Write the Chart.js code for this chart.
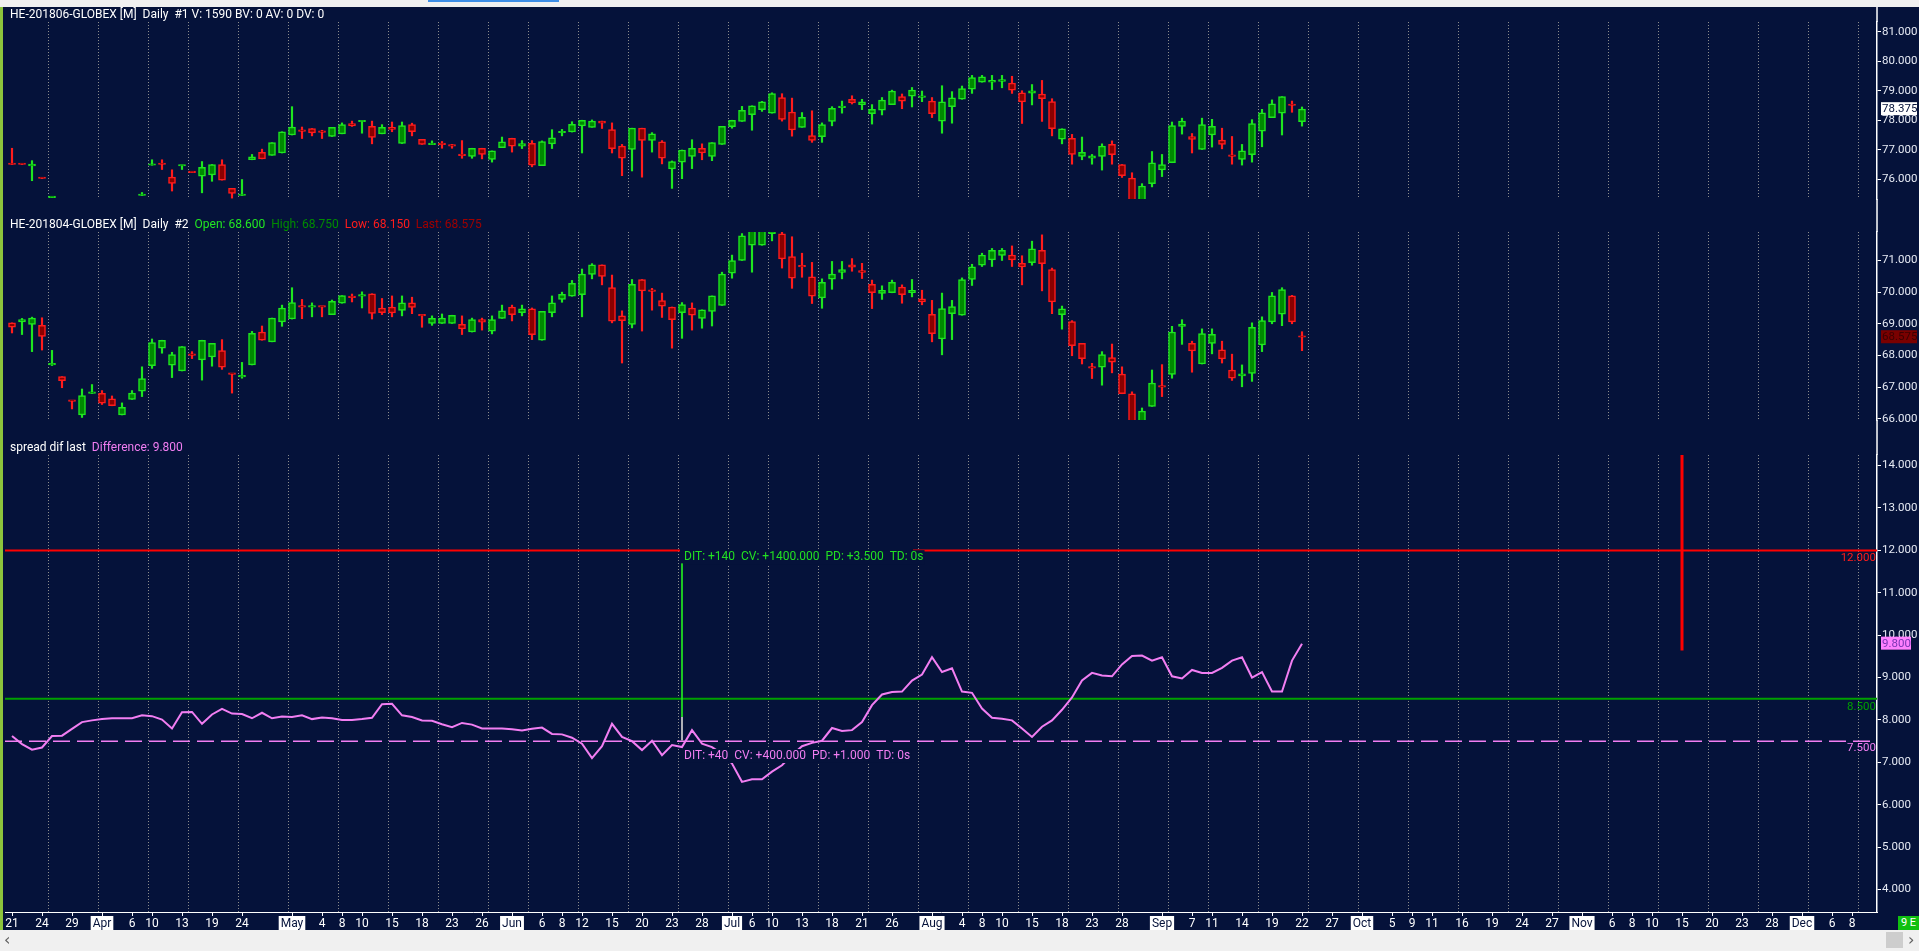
<!DOCTYPE html>
<html>
<head>
<meta charset="utf-8">
<title>HE-201806 / HE-201804 spread</title>
<script src="https://cdn.jsdelivr.net/npm/chart.js@4.4.1/dist/chart.umd.min.js"></script>
<style>
  html, body { margin: 0; padding: 0; }
  body { width: 1919px; height: 951px; background: #05123a; position: relative; overflow: hidden; font-family: Roboto, "Noto Sans", sans-serif; }
  .pane { position: absolute; left: 0; width: 1919px; }
  #topbar { position: absolute; left: 0; top: 0; width: 1919px; height: 7px; background: #f0f0f0; }
  #topbar div { position: absolute; left: 428px; top: 0; width: 131px; height: 2px; background: #3d8ee6; }
  #leftstrip { position: absolute; left: 0; top: 7px; width: 3px; height: 923px; background: #8cc43c; }
  #scroll { position: absolute; left: 0; top: 930px; width: 1919px; height: 21px; background: #f0f0f0; color: #606060; font: 16px "DejaVu Sans", sans-serif; }
  #scroll .l { position: absolute; left: 4px; top: 0px; }
  #scroll .r { position: absolute; left: 1908px; top: 0px; }
  #scroll .thumb { position: absolute; left: 1886px; top: 2px; width: 17px; height: 16px; background: #cdcdcd; }
  #nine { position: absolute; left: 1898px; top: 916px; width: 21px; height: 14px; background: #10c010; color: #fff; font: 11px Roboto, sans-serif; line-height: 14px; text-align: center; }
</style>
</head>
<body>
<div id="topbar"><div></div></div>
<div class="pane" style="top:7px;height:210px"><canvas id="pane1"></canvas></div>
<div class="pane" style="top:217px;height:221px"><canvas id="pane2"></canvas></div>
<div class="pane" style="top:438px;height:492px"><canvas id="pane3"></canvas></div>
<div id="leftstrip"></div>
<div id="nine">9 E</div>
<div id="scroll"><span class="l">&#8249;</span><div class="thumb"></div><span class="r">&#8250;</span></div>

<script>
// bar slots: 0 = 21 Mar, one slot per trading day, future slots to the right
var tickSlots = [0, 3, 6, 9, 12, 14, 17, 20, 23, 28, 31, 33, 35, 38, 41, 44, 47, 50, 53, 55, 57, 60, 63, 66, 69,
  72, 74, 76, 79, 82, 85, 88, 92, 95, 97, 99, 102, 105, 108, 111, 115, 118, 120, 123, 126, 129, 132, 135, 138,
  140, 142, 145, 148, 151, 154, 157, 160, 162, 164, 167, 170, 173, 176, 179, 182, 184];
var tickLabels = ['21', '24', '29', 'Apr', '6', '10', '13', '19', '24', 'May', '4', '8', '10', '15', '18', '23', '26',
  'Jun', '6', '8', '12', '15', '20', '23', '28', 'Jul', '6', '10', '13', '18', '21', '26', 'Aug', '4', '8', '10', '15',
  '18', '23', '28', 'Sep', '7', '11', '14', '19', '22', '27', 'Oct', '5', '9', '11', '16', '19', '24', '27', 'Nov',
  '6', '8', '10', '15', '20', '23', '28', 'Dec', '6', '8'];
var monthNames = ['Apr', 'May', 'Jun', 'Jul', 'Aug', 'Sep', 'Oct', 'Nov', 'Dec'];
// weekly separators, drawn after these slots
var gridSlots = [3, 8, 13, 17, 22, 27, 32, 37, 42, 47, 51, 56, 61, 66, 71, 75, 80, 85, 90, 95, 100, 105, 110, 115,
  119, 124, 129, 134, 139, 144, 149, 154, 159, 164, 169, 174, 179, 184];

// HE-201806
var open1 = [76.525, 76.525, 76.45, 76.05, 75.375, null, null, null, null, null, null, null, null, 75.45, 76.475, 76.525, 76.07, 76.45, 76.25, 76.10, 76.15, 76.50, 75.69, 75.45, 76.66, 76.91, 76.81, 76.89, 77.50, 77.65, 77.72, 77.64, 77.45, 77.54, 77.89, 77.95, 77.79, 77.54, 77.76, 77.21, 77.85, 77.35, 77.175, 77.20, 77.15, 76.825, 76.77, 77.05, 76.67, 77.07, 77.39, 77.12, 77.22, 76.46, 77.20, 77.575, 77.60, 77.81, 77.76, 77.97, 77.68, 77.12, 77.01, 77.73, 77.32, 77.27, 76.35, 76.58, 76.77, 77.05, 76.77, 77.18, 77.78, 77.96, 78.19, 78.36, 78.24, 78.77, 78.28, 77.76, 77.48, 77.44, 77.96, 78.425, 78.71, 78.53, 78.22, 78.34, 78.53, 78.80, 78.82, 78.77, 78.65, 77.97, 78.46, 78.71, 79.05, 79.29, 79.29, 79.32, 79.26, 78.93, 78.92, 78.89, 78.63, 77.36, 77.39, 76.77, 76.71, 76.77, 77.18, 76.50, 76.04, 75.20, 75.85, 76.32, 76.56, 77.79, 77.45, 77.01, 77.50, 77.33, 76.80, 76.67, 76.83, 77.63, 78.09, 78.24, 78.525, 77.95];
var high1 = [77.05, 76.525, 76.63, 76.05, 75.40, null, null, null, null, null, null, null, null, 75.55, 76.66, 76.66, 76.32, 76.475, 76.25, 76.60, 76.50, 76.66, 75.69, 75.99, 76.84, 77.02, 77.24, 77.61, 78.46, 77.77, 77.72, 77.66, 77.76, 77.91, 77.97, 77.975, 77.97, 77.85, 77.94, 77.94, 77.90, 77.35, 77.30, 77.28, 77.18, 77.31, 77.05, 77.05, 76.96, 77.43, 77.39, 77.31, 77.31, 77.30, 77.68, 77.69, 77.95, 78.00, 78.01, 77.97, 77.91, 77.18, 77.73, 77.73, 77.58, 77.31, 76.62, 76.99, 77.34, 77.20, 77.24, 77.79, 78.00, 78.47, 78.49, 78.64, 78.93, 78.90, 78.75, 78.26, 78.32, 77.91, 78.46, 78.65, 78.83, 78.71, 78.53, 78.77, 79.02, 78.89, 79.11, 78.99, 78.77, 79.17, 78.97, 79.16, 79.52, 79.52, 79.52, 79.52, 79.49, 79.00, 79.21, 79.35, 78.73, 77.71, 77.52, 77.43, 76.84, 77.20, 77.30, 76.50, 76.22, 75.85, 76.94, 76.84, 77.94, 78.07, 77.55, 78.07, 78.03, 77.73, 77.45, 77.18, 78.02, 78.37, 78.69, 78.80, 78.65, 78.45];
var low1 = [76.50, 76.50, 75.95, 76.025, 75.375, null, null, null, null, null, null, null, null, 75.45, 76.475, 76.33, 75.60, 76.33, 76.225, 75.54, 75.93, 75.97, 75.36, 75.45, 76.66, 76.69, 76.81, 76.89, 77.50, 77.38, 77.47, 77.38, 77.45, 77.54, 77.79, 77.56, 77.20, 77.54, 77.61, 77.21, 77.47, 77.18, 77.175, 77.05, 77.05, 76.71, 76.71, 76.69, 76.58, 77.07, 76.92, 77.04, 76.42, 76.46, 77.04, 77.47, 77.60, 76.89, 77.76, 77.72, 76.89, 76.12, 76.28, 76.07, 76.92, 76.52, 75.69, 76.02, 76.36, 76.66, 76.63, 77.18, 77.73, 77.96, 77.66, 78.30, 78.24, 77.97, 77.46, 77.76, 77.25, 77.25, 77.81, 78.24, 78.55, 78.36, 77.87, 78.18, 78.53, 78.39, 78.45, 78.63, 78.09, 77.56, 77.90, 78.71, 78.91, 79.29, 79.04, 79.10, 78.91, 77.89, 78.52, 77.96, 77.47, 77.20, 76.51, 76.66, 76.51, 76.31, 76.51, 76.06, 75.10, 75.10, 75.74, 76.09, 76.56, 77.53, 76.89, 77.01, 77.09, 77.03, 76.51, 76.48, 76.58, 77.10, 78.09, 77.50, 78.27, 77.80];
var close1 = [76.50, 76.50, 76.51, 76.025, 75.40, null, null, null, null, null, null, null, null, 75.475, 76.50, 76.50, 75.86, 76.475, 76.225, 76.40, 76.50, 75.97, 75.52, 75.50, 76.76, 76.69, 77.24, 77.61, 77.77, 77.625, 77.57, 77.59, 77.76, 77.85, 77.81, 77.975, 77.42, 77.76, 77.69, 77.82, 77.61, 77.18, 77.20, 77.175, 77.125, 76.80, 77.05, 76.84, 76.96, 77.27, 77.12, 77.21, 76.48, 77.28, 77.40, 77.60, 77.86, 78.00, 77.97, 77.90, 77.04, 76.71, 77.73, 77.32, 77.54, 76.71, 76.60, 76.99, 77.05, 76.89, 77.24, 77.79, 78.00, 78.34, 78.49, 78.62, 78.90, 78.03, 77.67, 78.10, 77.32, 77.85, 78.40, 78.45, 78.59, 78.62, 78.37, 78.68, 78.99, 78.65, 79.02, 78.83, 78.22, 78.62, 78.76, 79.07, 79.45, 79.47, 79.35, 79.38, 79.02, 78.62, 79.00, 78.73, 77.71, 77.71, 76.84, 76.91, 76.79, 77.12, 76.83, 76.12, 75.20, 75.77, 76.56, 76.50, 77.82, 77.97, 77.35, 77.85, 77.79, 77.18, 76.775, 76.96, 77.89, 78.25, 78.56, 78.80, 78.50, 78.375];

// HE-201804
var open2 = [69.03, 69.06, 68.98, 68.95, 67.70, 67.33, 66.575, 66.12, 66.80, 66.80, 66.63, 66.12, 66.61, 66.87, 67.68, 68.23, 67.69, 67.51, 68.025, 67.86, 67.95, 68.15, 67.425, 67.325, 67.70, 68.74, 68.43, 69.06, 69.15, 69.55, 69.525, 69.55, 69.29, 69.65, 69.85, 69.875, 69.95, 69.50, 69.53, 69.42, 69.66, 69.275, 69.01, 69.01, 69.01, 68.98, 68.74, 69.13, 68.77, 69.17, 69.53, 69.35, 69.47, 68.48, 69.35, 69.77, 69.87, 69.92, 70.56, 70.86, 70.14, 69.25, 68.98, 70.40, 70.05, 69.73, 69.53, 69.35, 69.50, 69.17, 69.39, 69.58, 70.60, 71.00, 71.48, 71.48, 71.85, 71.84, 71.12, 70.825, 70.48, 69.82, 70.41, 70.62, 70.86, 70.68, 70.25, 69.96, 69.98, 70.16, 69.98, 69.79, 69.30, 68.52, 69.32, 69.27, 70.40, 70.85, 71.02, 71.16, 71.17, 70.91, 70.93, 71.32, 70.71, 69.29, 69.07, 68.38, 67.625, 67.63, 67.93, 67.41, 66.79, 65.90, 66.39, 67.025, 67.40, 68.92, 68.38, 67.73, 68.38, 68.18, 67.54, 67.35, 67.43, 68.33, 69.06, 69.30, 69.88, 68.60];
var high2 = [69.03, 69.17, 69.21, 69.19, 68.16, 67.33, 66.575, 66.94, 67.08, 66.89, 66.72, 66.50, 66.89, 67.64, 68.52, 68.48, 68.10, 68.28, 68.12, 68.48, 68.38, 68.50, 67.425, 67.78, 68.76, 68.93, 69.18, 69.59, 70.14, 69.77, 69.66, 69.55, 69.75, 69.89, 69.94, 70.01, 69.95, 69.80, 69.88, 69.88, 69.84, 69.28, 69.25, 69.31, 69.27, 69.25, 69.18, 69.18, 69.25, 69.59, 69.59, 69.59, 69.50, 69.39, 69.88, 70.00, 70.37, 70.73, 70.90, 70.86, 70.54, 69.41, 70.40, 70.40, 70.12, 69.97, 69.53, 69.67, 69.66, 69.44, 69.88, 70.63, 71.17, 71.85, 72.05, 72.05, 72.05, 72.00, 71.75, 71.23, 70.94, 70.42, 70.97, 70.97, 71.06, 70.91, 70.38, 70.20, 70.38, 70.23, 70.40, 70.06, 69.74, 69.97, 69.74, 70.45, 70.88, 71.23, 71.38, 71.38, 71.46, 71.15, 71.61, 71.81, 70.76, 69.56, 69.10, 68.38, 67.75, 68.12, 68.36, 67.64, 66.85, 66.34, 67.54, 67.71, 68.92, 69.13, 68.45, 68.84, 68.84, 68.45, 68.04, 67.70, 69.03, 69.22, 69.99, 70.14, 69.90, 68.75];
var low2 = [68.71, 68.66, 68.12, 68.17, 67.68, 66.98, 66.31, 66.04, 66.80, 66.45, 66.41, 66.12, 66.61, 66.70, 67.59, 68.07, 67.30, 67.51, 67.90, 67.22, 67.66, 67.56, 66.81, 67.28, 67.70, 68.48, 68.43, 68.92, 69.15, 69.16, 69.22, 69.22, 69.29, 69.65, 69.69, 69.50, 69.15, 69.29, 69.22, 69.25, 69.32, 68.89, 68.95, 69.01, 69.01, 68.66, 68.74, 68.80, 68.68, 69.17, 69.09, 69.25, 68.50, 68.48, 69.22, 69.68, 69.87, 69.22, 70.42, 70.23, 69.03, 67.76, 68.87, 68.77, 69.43, 69.20, 68.23, 68.54, 68.80, 68.86, 68.93, 69.58, 70.44, 71.00, 70.63, 71.48, 71.62, 70.76, 70.12, 70.47, 69.64, 69.49, 70.09, 70.42, 70.66, 70.43, 69.48, 69.77, 69.98, 69.65, 69.85, 69.60, 68.43, 68.02, 68.50, 69.27, 70.21, 70.81, 70.81, 71.00, 70.81, 70.23, 70.85, 70.04, 69.32, 68.83, 67.99, 67.73, 67.27, 67.06, 67.45, 66.79, 65.80, 65.80, 66.39, 66.70, 67.28, 68.35, 67.47, 67.73, 68.05, 67.76, 67.21, 67.01, 67.18, 68.12, 69.00, 68.94, 69.00, 68.15];
var close2 = [68.89, 69.13, 69.18, 68.60, 67.725, 67.20, 66.55, 66.73, 66.825, 66.49, 66.41, 66.36, 66.81, 67.27, 68.41, 68.48, 68.03, 68.28, 68.00, 68.48, 68.38, 67.63, 67.40, 67.35, 68.70, 68.48, 69.18, 69.50, 69.67, 69.525, 69.55, 69.525, 69.71, 69.89, 69.825, 69.90, 69.33, 69.35, 69.34, 69.66, 69.52, 69.25, 69.17, 69.18, 69.27, 68.84, 69.13, 69.05, 69.13, 69.41, 69.29, 69.47, 68.66, 69.39, 69.66, 69.93, 70.28, 70.57, 70.86, 70.50, 69.08, 69.10, 70.25, 70.04, 70.025, 69.56, 69.13, 69.61, 69.27, 69.44, 69.88, 70.57, 71.00, 71.78, 71.95, 72.00, 72.00, 71.05, 70.44, 70.80, 69.87, 70.31, 70.57, 70.71, 70.79, 70.62, 69.98, 70.06, 70.31, 69.92, 70.06, 69.69, 68.69, 69.48, 69.54, 70.40, 70.80, 71.17, 71.32, 71.32, 71.02, 70.80, 71.37, 70.90, 69.69, 69.47, 68.31, 67.90, 67.60, 68.03, 67.79, 66.79, 65.90, 66.24, 67.13, 67.00, 68.74, 68.99, 68.14, 68.69, 68.67, 67.89, 67.28, 67.42, 68.89, 69.10, 69.88, 70.08, 69.06, 68.575];

// spread dif last
var spread = [7.62, 7.43, 7.30, 7.35, 7.62, 7.63, 7.79, 7.95, 7.99, 8.02, 8.04, 8.04, 8.04, 8.11, 8.09, 8.01, 7.80, 8.18, 8.19, 7.91,
  8.13, 8.26, 8.15, 8.14, 8.04, 8.17, 8.04, 8.08, 8.07, 8.11, 8.02, 8.06, 8.04, 8.00, 8.00, 8.02, 8.05, 8.37, 8.38, 8.11,
  8.07, 7.99, 7.98, 7.90, 7.83, 7.93, 7.89, 7.80, 7.80, 7.80, 7.78, 7.75, 7.79, 7.82, 7.67, 7.66, 7.58, 7.44, 7.10, 7.38,
  7.91, 7.60, 7.50, 7.29, 7.51, 7.17, 7.41, 7.36, 7.76, 7.44, 7.36, 7.20, 6.97, 6.54, 6.60, 6.60, 6.78, 6.93, 7.17, 7.38,
  7.46, 7.51, 7.81, 7.74, 7.76, 7.95, 8.35, 8.60, 8.66, 8.67, 8.93, 9.07, 9.48, 9.13, 9.22, 8.67, 8.64, 8.27, 8.05, 8.03,
  7.99, 7.80, 7.60, 7.84, 7.99, 8.24, 8.53, 8.93, 9.11, 9.05, 9.03, 9.31, 9.51, 9.52, 9.40, 9.48, 9.03, 8.98, 9.18, 9.11,
  9.11, 9.23, 9.40, 9.48, 9.00, 9.13, 8.67, 8.67, 9.40, 9.80];

// horizontal levels and drawing-tool marks on the spread pane
var levelRed = 12.0, levelGreen = 8.5, levelViolet = 7.5;
var measureSlot = 67, redResumeSlot = 90.1;
var alertSlot = 167, alertLow = 9.64;

var yTicks1 = [76, 77, 78, 79, 80, 81];
var yTicks2 = [66, 67, 68, 69, 70, 71];
var yTicks3 = [4, 5, 6, 7, 8, 9, 10, 11, 12, 13, 14];

var xMin = -0.7, xMax = 186.5;
var navy = '#05123a';
var upLine = '#1fe61f', upFill = '#008a00', downLine = '#ff1c1c', downFill = '#8b0000';
var violet = '#f27ef2';
var fontFamily = 'Roboto, "Noto Sans", sans-serif';
var axisFont = '11.5px ' + fontFamily;

function candleSets(o, h, l, c) {
    var wicks = [], bodies = [];
    for (var i = 0; i < c.length; i++) {
        if (c[i] == null) continue;
        var up = c[i] > o[i];
        wicks.push({ x: i, y: [l[i], h[i]], up: up });
        bodies.push({ x: i, y: [o[i], c[i]], up: up });
    }
    return [{
        data: bodies, order: 1, grouped: false, barThickness: 7, minBarLength: 1.5,
        borderWidth: 1.5, borderSkipped: false,
        backgroundColor: function (ctx) { return ctx.raw && ctx.raw.up ? upFill : downFill; },
        borderColor: function (ctx) { return ctx.raw && ctx.raw.up ? upLine : downLine; }
    }, {
        data: wicks, order: 2, grouped: false, barThickness: 1.5, borderWidth: 0,
        backgroundColor: function (ctx) { return ctx.raw && ctx.raw.up ? upLine : downLine; }
    }];
}

function xScale(show) {
    return {
        type: 'linear', min: xMin, max: xMax, offset: false, display: show,
        grid: { display: show, offset: false, drawOnChartArea: false, drawTicks: true, tickLength: 4, color: '#ffffff' },
        border: { display: show, color: '#ffffff', width: 1 },
        afterBuildTicks: function (s) { s.ticks = tickSlots.map(function (v) { return { value: v }; }); },
        afterFit: function (s) { s.height = 18; },
        ticks: {
            autoSkip: false, maxRotation: 0, minRotation: 0, padding: 1,
            font: { family: fontFamily, size: 12 },
            color: function (ctx) { return monthNames.indexOf(tickLabels[ctx.index]) >= 0 ? navy : '#ffffff'; },
            showLabelBackdrop: function (ctx) { return monthNames.indexOf(tickLabels[ctx.index]) >= 0; },
            backdropColor: '#ffffff',
            backdropPadding: { x: 2, y: 1 },
            callback: function (v, i) { return tickLabels[i]; }
        }
    };
}

function yScale(min, max, ticks) {
    return {
        type: 'linear', position: 'right', min: min, max: max,
        afterBuildTicks: function (s) { s.ticks = ticks.map(function (v) { return { value: v }; }); },
        afterFit: function (s) { s.width = 42; },
        grid: { drawOnChartArea: false, drawTicks: true, tickLength: 4, color: '#ffffff' },
        border: { display: true, color: '#ffffff', width: 1.5 },
        ticks: {
            padding: 1, color: '#e6eaf4', font: { family: fontFamily, size: 11.5 },
            callback: function (v) { return Number(v).toFixed(3); }
        }
    };
}

// dotted weekly separators + header text + axis line through the header gap
function paneDecor(header, headerY, box) {
    return {
        id: 'paneDecor',
        beforeDatasetsDraw: function (chart) {
            var ctx = chart.ctx, a = chart.chartArea, xs = chart.scales.x;
            ctx.save();
            ctx.strokeStyle = '#8c8c8c';
            ctx.lineWidth = 1;
            ctx.setLineDash([1, 2]);
            gridSlots.forEach(function (g) {
                var px = Math.round(xs.getPixelForValue(g + 0.6)) + 0.5;
                ctx.beginPath();
                ctx.moveTo(px, a.top);
                ctx.lineTo(px, a.bottom);
                ctx.stroke();
            });
            ctx.restore();
        },
        afterDraw: function (chart) {
            var ctx = chart.ctx, a = chart.chartArea, ys = chart.scales.y;
            ctx.save();
            ctx.strokeStyle = '#ffffff';
            ctx.lineWidth = 1.5;
            ctx.beginPath();
            ctx.moveTo(a.right, 0);
            ctx.lineTo(a.right, a.top);
            if (!chart.options.scales.x.display) {
                ctx.moveTo(a.right, a.bottom);
                ctx.lineTo(a.right, chart.height);
            }
            ctx.stroke();

            ctx.font = '12px ' + fontFamily;
            ctx.textBaseline = 'middle';
            ctx.textAlign = 'left';
            var x = 10;
            header.forEach(function (seg) {
                ctx.fillStyle = seg[1];
                ctx.fillText(seg[0], x, headerY);
                x += ctx.measureText(seg[0]).width;
            });

            // last value box on the price axis
            ctx.font = axisFont;
            var py = ys.getPixelForValue(box.value);
            ctx.fillStyle = box.bg;
            ctx.fillRect(a.right + 4, py - 7, box.w, 13);
            ctx.fillStyle = box.fg;
            ctx.fillText(box.value.toFixed(3), a.right + 5, py);
            ctx.restore();
        }
    };
}

function candleChart(id, o, h, l, c, yMin, yMax, ticks, header, box) {
    return new Chart(document.getElementById(id).getContext('2d'), {
        type: 'bar',
        data: { datasets: candleSets(o, h, l, c) },
        options: {
            responsive: true, maintainAspectRatio: false, animation: false, events: [],
            layout: { padding: { left: 5, top: 15, right: 0, bottom: 0 } },
            plugins: { legend: { display: false }, tooltip: { enabled: false } },
            scales: { x: xScale(false), y: yScale(yMin, yMax, ticks) }
        },
        plugins: [paneDecor(header, 8, box)]
    });
}

function pts(list) {
    return list.map(function (p) { return { x: p[0], y: p[1] }; });
}

var spreadMarks = {
    id: 'spreadMarks',
    afterDatasetsDraw: function (chart) {
        var ctx = chart.ctx, a = chart.chartArea, xs = chart.scales.x, ys = chart.scales.y;
        ctx.save();
        ctx.font = '12px ' + fontFamily;
        ctx.textBaseline = 'middle';

        // measuring tool readouts, opaque like the platform draws them
        var mx = xs.getPixelForValue(measureSlot) + 1;
        [['DIT: +140  CV: +1400.000  PD: +3.500  TD: 0s', '#22e022', 11.84],
         ['DIT: +40  CV: +400.000  PD: +1.000  TD: 0s', violet, 7.15]].forEach(function (t) {
            var ty = ys.getPixelForValue(t[2]);
            var w = ctx.measureText(t[0]).width;
            ctx.fillStyle = navy;
            ctx.fillRect(mx, ty - 7, w + 2, 14);
            ctx.fillStyle = t[1];
            ctx.textAlign = 'left';
            ctx.fillText(t[0], mx + 1, ty);
        });

        // level values at the right edge of the pane
        ctx.font = axisFont;
        ctx.textAlign = 'right';
        [[levelRed, '#ff1c1c', 8], [levelGreen, '#00a000', 8], [levelViolet, violet, 7]].forEach(function (l) {
            ctx.fillStyle = l[1];
            ctx.fillText(l[0].toFixed(3), a.right - 1, ys.getPixelForValue(l[0]) + l[2]);
        });
        ctx.restore();
    }
};

document.addEventListener('DOMContentLoaded', function () {
    Chart.defaults.font.family = fontFamily;

    candleChart('pane1', open1, high1, low1, close1, 75.33, 81.33, yTicks1,
        [['HE-201806-GLOBEX [M]  Daily  #1 V: 1590 BV: 0 AV: 0 DV: 0', '#ffffff']],
        { value: close1[close1.length - 1], bg: '#ffffff', fg: navy, w: 36 });

    candleChart('pane2', open2, high2, low2, close2, 65.96, 71.90, yTicks2,
        [['HE-201804-GLOBEX [M]  Daily  #2  ', '#ffffff'],
         ['Open: ' + open2[129].toFixed(3) + '  ', '#22e622'],
         ['High: ' + high2[129].toFixed(3) + '  ', '#008c00'],
         ['Low: ' + low2[129].toFixed(3) + '  ', '#ff1c1c'],
         ['Last: ' + close2[129].toFixed(3), '#a00000']],
        { value: close2[close2.length - 1], bg: '#7a0000', fg: '#3c0000', w: 36 });

    var lastSpread = spread[spread.length - 1];
    new Chart(document.getElementById('pane3').getContext('2d'), {
        type: 'line',
        data: {
            datasets: [{
                data: spread.map(function (v, i) { return { x: i, y: v }; }),
                borderColor: violet, borderWidth: 2, pointRadius: 0, tension: 0, order: 0
            }, {
                data: pts([[xMin, levelRed], [measureSlot - 0.2, levelRed], [78, null], [redResumeSlot, levelRed], [xMax, levelRed]]),
                borderColor: '#ff0000', borderWidth: 2, pointRadius: 0, spanGaps: false, order: 3
            }, {
                data: pts([[xMin, levelGreen], [xMax, levelGreen]]),
                borderColor: '#00a000', borderWidth: 2, pointRadius: 0, order: 3
            }, {
                data: pts([[xMin, levelViolet], [xMax, levelViolet]]),
                borderColor: violet, borderWidth: 1.5, borderDash: [17, 7], pointRadius: 0, order: 3
            }, {
                data: pts([[alertSlot, 14.3], [alertSlot, alertLow]]),
                borderColor: '#ff0000', borderWidth: 3, pointRadius: 0, order: 2
            }, {
                data: pts([[measureSlot, 11.69], [measureSlot, 8.07]]),
                borderColor: '#22e022', borderWidth: 1, pointRadius: 0, order: 2
            }, {
                data: pts([[measureSlot, 8.07], [measureSlot, 7.52]]),
                borderColor: '#c8c8c8', borderWidth: 1, pointRadius: 0, order: 2
            }]
        },
        options: {
            responsive: true, maintainAspectRatio: false, animation: false, events: [],
            layout: { padding: { left: 5, top: 17, right: 0, bottom: 0 } },
            plugins: { legend: { display: false }, tooltip: { enabled: false } },
            scales: { x: xScale(true), y: yScale(3.47, 14.25, yTicks3) }
        },
        plugins: [
            paneDecor([['spread dif last  ', '#ffffff'], ['Difference: ' + lastSpread.toFixed(3), violet]], 10,
                { value: lastSpread, bg: '#ff80ff', fg: '#7a35b5', w: 30 }),
            spreadMarks
        ]
    });
});
</script>
</body>
</html>
